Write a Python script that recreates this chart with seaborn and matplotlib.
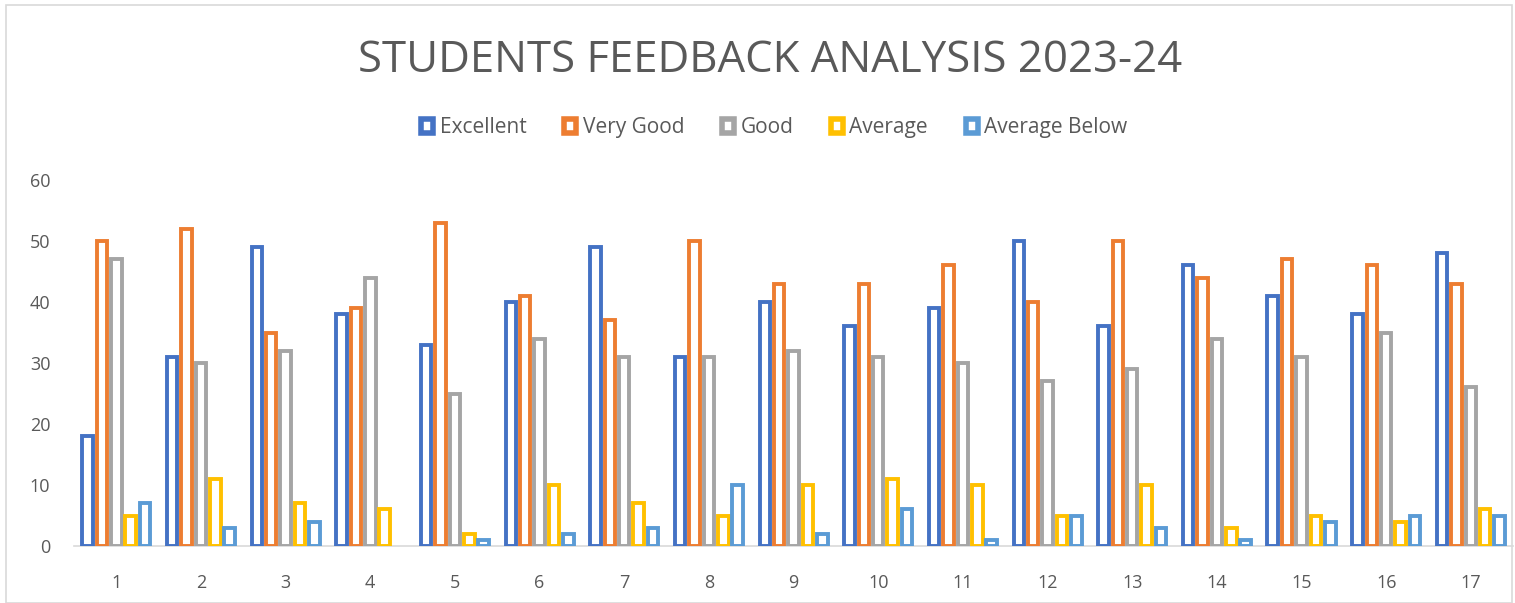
import matplotlib.pyplot as plt
import matplotlib.patches as mpatches
import pandas as pd
import seaborn as sns

sns.set_style("white")
plt.rcParams['font.family'] = ['Open Sans', 'DejaVu Sans']

items = [str(i) for i in range(1, 18)]
ratings = ['Excellent', 'Very Good', 'Good', 'Average', 'Average Below']
excellent = [18, 31, 49, 38, 33, 40, 49, 31, 40, 36, 39, 50, 36, 46, 41, 38, 48]
very_good = [50, 52, 35, 39, 53, 41, 37, 50, 43, 43, 46, 40, 50, 44, 47, 46, 43]
good = [47, 30, 32, 44, 25, 34, 31, 31, 32, 31, 30, 27, 29, 34, 31, 35, 26]
average = [5, 11, 7, 6, 2, 10, 7, 5, 10, 11, 10, 5, 10, 3, 5, 4, 6]
average_below = [7, 3, 4, 0, 1, 2, 3, 10, 2, 6, 1, 5, 3, 1, 4, 5, 5]
colours = ["#4472c4", "#ed7d31", "#a5a5a5", "#ffc000", "#5b9bd5"]

rows = []
for name, vals in zip(ratings, [excellent, very_good, good, average, average_below]):
    for item, v in zip(items, vals):
        rows.append(dict(item=item, rating=name, value=v))
df = pd.DataFrame(rows)

fig = plt.figure(figsize=(15.15, 6.03), dpi=100)
ax = fig.add_axes([0.0488, 0.0945, 0.95, 0.607])

# outline drawn inside each bar slot, like the Excel original
sns.barplot(data=df, x="item", y="value", hue="rating", order=items, hue_order=ratings,
            palette=colours, fill=False, gap=0.27, width=0.85, linewidth=2.8,
            errorbar=None, legend=False, ax=ax)
# zero-height bars show nothing in the original
for p in ax.patches:
    if p.get_height() == 0:
        p.set_visible(False)

ax.set_ylim(0, 60)
ax.set_yticks(range(0, 61, 10))
ax.set_xlim(-0.5, 16.5)
ax.set_xlabel("")
ax.set_ylabel("")
for s in ["top", "left", "right"]:
    ax.spines[s].set_visible(False)
ax.spines["bottom"].set_color("#d9d9d9")
ax.spines["bottom"].set_linewidth(1.2)
ax.spines["bottom"].set_zorder(0)
ax.tick_params(axis="both", length=0, labelsize=13, labelcolor="#595959")
ax.tick_params(axis="y", pad=17)
ax.tick_params(axis="x", pad=20)

fig.text(0.5085, 0.90, "STUDENTS FEEDBACK ANALYSIS 2023-24", ha="center", va="center",
         fontsize=31.5, color="#595959")

handles = [mpatches.Patch(facecolor="white", edgecolor=c, linewidth=4, label=r)
           for c, r in zip(colours, ratings)]
fig.legend(handles=handles, loc="center", bbox_to_anchor=(0.511, 0.788), ncol=5,
           frameon=False, fontsize=15, labelcolor="#595959", handlelength=0.6,
           handleheight=0.6, handletextpad=0.3, columnspacing=1.8)

fig.patches.append(mpatches.Rectangle((0.004, 0.0), 0.994, 0.992, transform=fig.transFigure,
                                      fill=False, edgecolor="#d9d9d9", linewidth=1.2))

plt.savefig("out.png", dpi=100)
